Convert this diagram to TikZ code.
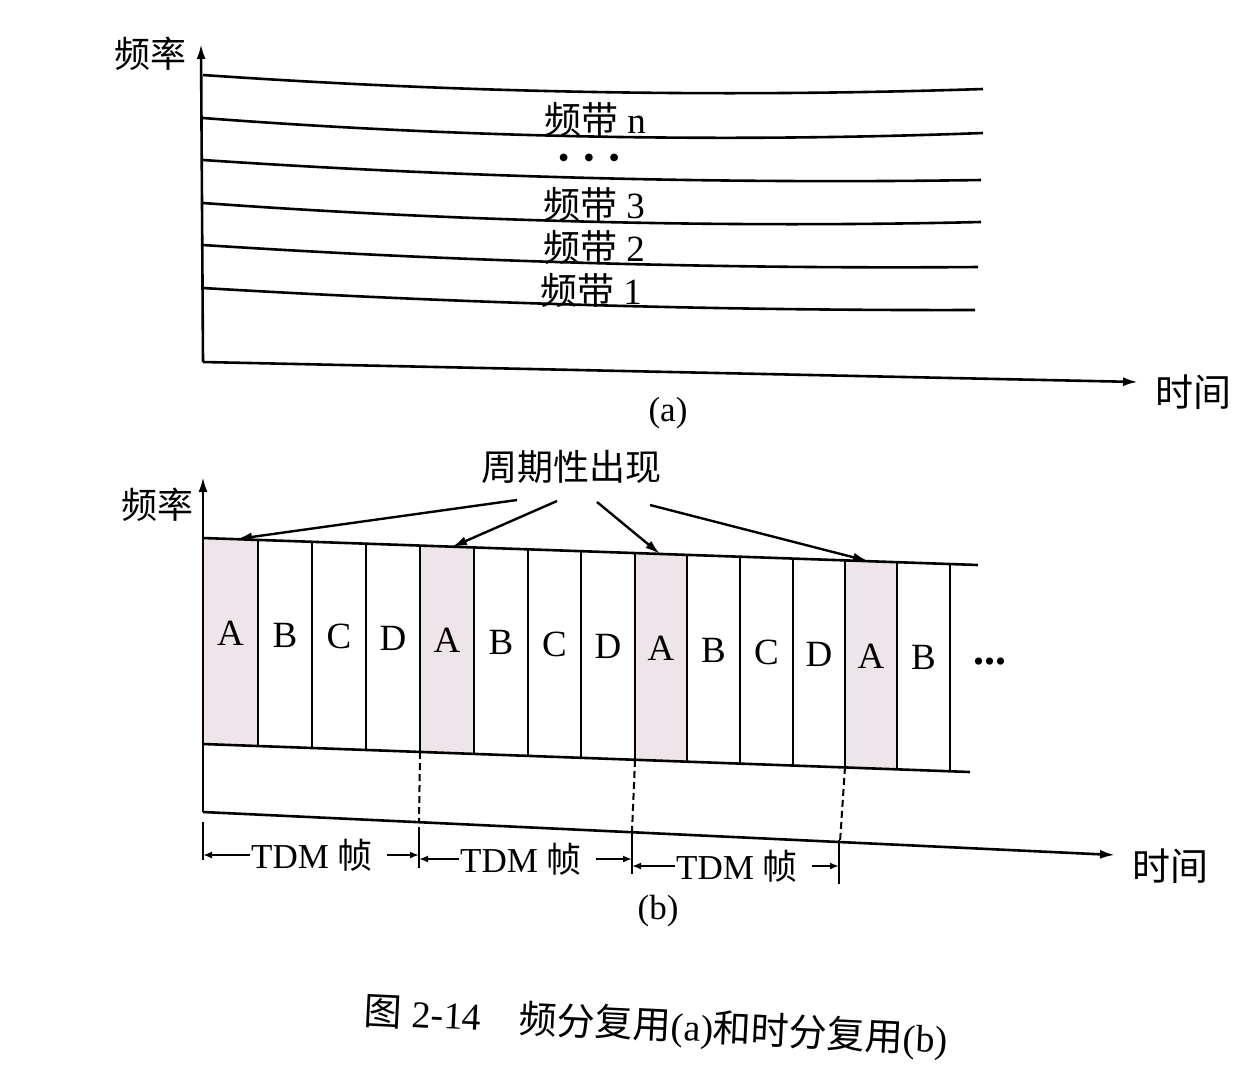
\documentclass[tikz,border=0pt]{standalone}
\usepackage{fontspec}
\setmainfont{Liberation Serif}
\newfontfamily\cjk{Noto Sans CJK SC}
\newcommand\zh[1]{{\cjk #1}}
\usetikzlibrary{arrows.meta}
\definecolor{slotfill}{RGB}{238,229,234}
\begin{document}
\begin{tikzpicture}[x=1pt,y=-1pt,
  ln/.style={line width=2.6pt},
  axis/.style={line width=2.6pt,-{Latex[length=15pt,width=9pt]}},
  arr/.style={line width=2.4pt,-{Latex[length=15pt,width=9pt]}},
  sm/.style={line width=2pt,-{Latex[length=9pt,width=7pt]}},
  dsh/.style={line width=2pt,dash pattern=on 7pt off 4pt},
  tick/.style={line width=2pt},
  zhs/.style={font=\cjk\fontsize{36}{40}\selectfont, inner sep=0pt},
  zhl/.style={font=\cjk\fontsize{38}{42}\selectfont, inner sep=0pt},
  lat/.style={font=\fontsize{37}{40}\selectfont, inner sep=0pt},
  lab/.style={font=\fontsize{35}{40}\selectfont, inner sep=0pt},
]
\useasboundingbox (0,0) rectangle (1241,1080);
\fill[white] (0,0) rectangle (1241,1080);

% ---------------- (a) ----------------
\coordinate (ao) at (203,362);
\coordinate (ay) at (201,44);
\coordinate (ax) at (1138,382);
\draw[axis] (ao) -- (ay);
\draw[axis] (ao) -- (ax);
\node[zhs] (fa) at (150,54) {频率};
\node[zhl] (ta) at (1193,392) {时间};

\draw[ln] (203,75) .. controls (463,93) and (723,97.6) .. (983,89);
\draw[ln] (203,118) .. controls (463,137.7) and (723,142.7) .. (983,133);
\draw[ln] (203,160) .. controls (463,177.4) and (723,184) .. (981,180);
\draw[ln] (203,203) .. controls (463,221.7) and (723,228) .. (981,222);
\draw[ln] (203,245) .. controls (461,261.7) and (720,269) .. (978,267);
\draw[ln] (203,288) .. controls (460,303.3) and (717,310.7) .. (975,310);

\node[lat] (bn) at (595,119) {\zh{频带} n};
\node[font=\fontsize{32}{34}\selectfont, inner sep=0pt] (bd) at (589,161) {•\hspace{14pt}•\hspace{14pt}•};
\node[lat] (b3) at (594,204) {\zh{频带} 3};
\node[lat] (b2) at (594,247) {\zh{频带} 2};
\node[lat] (b1) at (591,290) {\zh{频带} 1};
\node[lab] (capa) at (668,413) {(a)};

% ---------------- (b) ----------------
\foreach \xa/\xb in {203/258, 420/474, 635/687, 845/897}{
  \pgfmathsetmacro{\ua}{538+(\xa-203)*0.03484}
  \pgfmathsetmacro{\ub}{538+(\xb-203)*0.03484}
  \pgfmathsetmacro{\la}{744+(\xa-203)*0.03651}
  \pgfmathsetmacro{\lb}{744+(\xb-203)*0.03651}
  \fill[slotfill] (\xa,\ua) -- (\xb,\ub) -- (\xb,\lb) -- (\xa,\la) -- cycle;
}
\foreach \xa/\xb/\l [count=\i] in {203/258/A, 258/312/B, 312/366/C, 366/420/D,
    420/474/A, 474/528/B, 528/581/C, 581/635/D, 635/687/A, 687/740/B,
    740/793/C, 793/845/D, 845/897/A, 897/950/B}{
  \pgfmathsetmacro{\ua}{538+(\xa-203)*0.03484}
  \pgfmathsetmacro{\ub}{538+(\xb-203)*0.03484}
  \pgfmathsetmacro{\la}{744+(\xa-203)*0.03651}
  \pgfmathsetmacro{\lb}{744+(\xb-203)*0.03651}
  \pgfmathsetmacro{\xm}{(\xa+\xb)/2}
  \pgfmathsetmacro{\ym}{(\ua+\ub+\la+\lb)/4-9}
  \draw[ln] (\xb,\ub) -- (\xb,\lb);
  \node[lat] (s\i) at (\xm,\ym) {\l};
}
\node[font=\bfseries\fontsize{44}{46}\selectfont, inner sep=0pt] (sdots) at (990,662) {...};
\draw[ln] (203,538) -- (978,565);
\draw[ln] (203,744) -- (970,772);

\coordinate (bo) at (203,812);
\coordinate (by) at (203,477);
\coordinate (bx) at (1115,855);
\draw[axis] (bo) -- (by);
\draw[axis] (bo) -- (bx);
\node[zhs] (fb) at (157,505) {频率};
\node[zhl] (tb) at (1170,866) {时间};

\node[zhs] (per) at (571,467) {周期性出现};
\coordinate (p1) at (517,500);
\coordinate (p2) at (557,501);
\coordinate (p3) at (597,502);
\coordinate (p4) at (650,505);
\coordinate (q1) at (237,539);
\coordinate (q2) at (452,547);
\coordinate (q3) at (660,554);
\coordinate (q4) at (868,561);
\draw[arr] (p1) -- (q1);
\draw[arr] (p2) -- (q2);
\draw[arr] (p3) -- (q3);
\draw[arr] (p4) -- (q4);

% dashed frame boundaries
\draw[dsh] (420,752) -- (419,822);
\draw[dsh] (635,760) -- (632,832);
\draw[dsh] (845,767) -- (840,842);

% ticks
\coordinate (k0) at (203,822);
\coordinate (k1) at (419,827);
\coordinate (k2) at (632,833);
\coordinate (k3) at (839,840);
\draw[tick] (k0) -- (203,860);
\draw[tick] (k1) -- (419,868);
\draw[tick] (k2) -- (632,874);
\draw[tick] (k3) -- (839,884);

\node[lab] (t1) at (312,855) {TDM \zh{帧}};
\node[lab] (t2) at (521,859) {TDM \zh{帧}};
\node[lab] (t3) at (737,866) {TDM \zh{帧}};
\draw[sm] ([xshift=-1pt]t1.west) -- (t1.west -| k0);
\draw[sm] ([xshift=14pt]t1.east) -- (t1.east -| k1);
\draw[sm] ([xshift=-1pt]t2.west) -- (t2.west -| k1);
\draw[sm] ([xshift=14pt]t2.east) -- (t2.east -| k2);
\draw[sm] ([xshift=-1pt]t3.west) -- (t3.west -| k2);
\draw[sm] ([xshift=14pt]t3.east) -- (t3.east -| k3);

\node[lab] (capb) at (658,911) {(b)};

% caption
\node[font=\fontsize{38}{42}\selectfont, inner sep=0pt, rotate=-2.8] (cap) at (656,1027)
  {\zh{图} 2-14\hspace{38pt}\zh{频分复用}(a)\zh{和时分复用}(b)};
\end{tikzpicture}
\end{document}
